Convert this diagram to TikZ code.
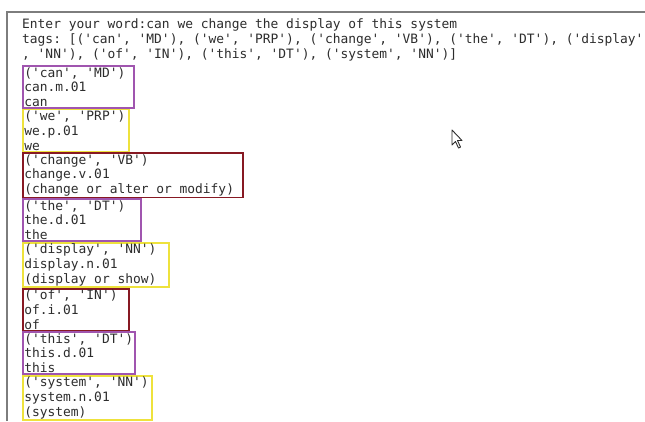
\documentclass[tikz,border=0pt]{standalone}
\usepackage{fontspec}
\setmonofont{DejaVu Sans Mono}
\usepackage{tikz}
\usetikzlibrary{positioning}

\definecolor{termtext}{RGB}{45,45,45}
\definecolor{termframe}{RGB}{125,125,125}
\definecolor{mdpurple}{RGB}{160,85,175}
\definecolor{nnyellow}{RGB}{238,226,60}
\definecolor{vbred}{RGB}{135,25,35}

\begin{document}
\begin{tikzpicture}[x=1pt,y=1pt,
                    termline/.style={inner sep=0pt,anchor=north west,text=termtext,
                                     font=\ttfamily\fontsize{12.9}{14.7}\selectfont,
                                     text height=10.4pt,text depth=4.3pt},
                    wordbox/.style={termline,draw,line width=1.7pt,align=flush left,
                                    text height=,text depth=,
                                    execute at begin node={\spaceskip=0pt\xspaceskip=0pt},
                                    inner xsep=1.5pt,inner ysep=1.2pt},
                    purplebox/.style={wordbox,draw=mdpurple},
                    yellowbox/.style={wordbox,draw=nnyellow},
                    redbox/.style={wordbox,draw=vbred}]

  \useasboundingbox[fill=white] (0,0) rectangle (645,-421);

  % terminal window edge
  \draw[termframe,line width=1.3pt] (7,-421) -- (7,-12) -- (645,-12);

  % header lines
  \node[termline] (enter) at (22,-18) {Enter your word:can we change the display of this system};
  \node[termline] (tags) [below=0pt of enter.south west,anchor=north west]
        {tags: [('can', 'MD'), ('we', 'PRP'), ('change', 'VB'), ('the', 'DT'), ('display'};
  \node[termline] (tagsrest) [below=0pt of tags.south west,anchor=north west]
        {, 'NN'), ('of', 'IN'), ('this', 'DT'), ('system', 'NN')]};

  % one box per word
  \node[purplebox,text width=108pt] (can) [below=2pt of tagsrest.south west,anchor=north west]
        {('can', 'MD')\\can.m.01\\can};
  \node[yellowbox,text width=103pt] (we) [below=0pt of can.south west,anchor=north west]
        {('we', 'PRP')\\we.p.01\\we};
  \node[redbox,text width=217pt] (change) [below=0pt of we.south west,anchor=north west]
        {('change', 'VB')\\change.v.01\\(change or alter or modify)};
  \node[purplebox,text width=115pt] (the) [below=0pt of change.south west,anchor=north west]
        {('the', 'DT')\\the.d.01\\the};
  \node[yellowbox,text width=143pt] (display) [below=0pt of the.south west,anchor=north west]
        {('display', 'NN')\\display.n.01\\(display or show)};
  \node[redbox,text width=103pt] (of) [below=0pt of display.south west,anchor=north west]
        {('of', 'IN')\\of.i.01\\of};
  \node[purplebox,text width=109pt] (this) [below=0pt of of.south west,anchor=north west]
        {('this', 'DT')\\this.d.01\\this};
  \node[yellowbox,text width=126pt] (system) [below=0pt of this.south west,anchor=north west]
        {('system', 'NN')\\system.n.01\\(system)};

  % mouse pointer
  \draw[termtext,fill=white,line width=0.9pt,line join=round]
    (452,-130) -- (452,-145) -- (455.5,-141.5) -- (458.5,-148) -- (460.5,-147)
    -- (457.5,-140.5) -- (462,-140.5) -- cycle;
\end{tikzpicture}
\end{document}
